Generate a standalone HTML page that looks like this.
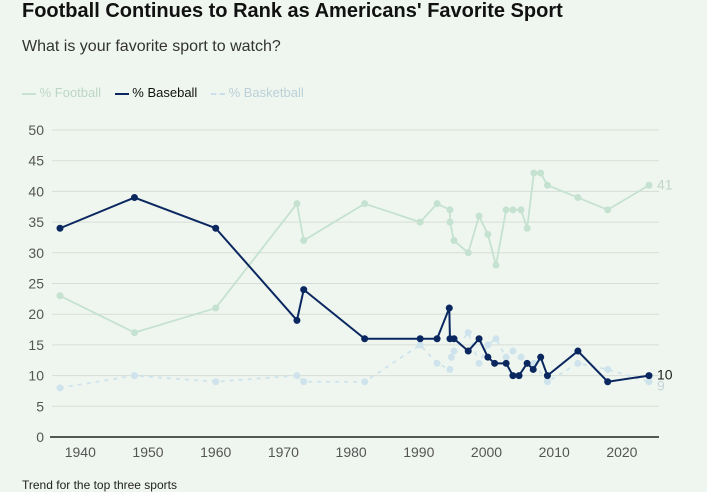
<!DOCTYPE html>
<html><head><meta charset="utf-8">
<style>
html,body{margin:0;padding:0;background:#eff6ef;}
body{width:707px;height:491px;overflow:hidden;font-family:"Liberation Sans",sans-serif;position:relative;}
.t{position:absolute;white-space:nowrap;}
</style></head>
<body>
<div class="t" style="left:22px;top:0px;font-size:20px;font-weight:bold;color:#111;">Football Continues to Rank as Americans' Favorite Sport</div>
<div class="t" style="left:22px;top:38px;font-size:16px;color:#333;">What is your favorite sport to watch?</div>
<div class="t" style="left:22px;top:85px;font-size:13px;">
 <span style="color:#bcd6c6;"><span style="display:inline-block;width:14px;border-top:2px solid #c7e2d2;vertical-align:middle;"></span> % Football</span>
 <span style="color:#111;margin-left:10px;"><span style="display:inline-block;width:14px;border-top:2px solid #0b2760;vertical-align:middle;"></span> % Baseball</span>
 <span style="color:#bcd0d8;margin-left:10px;"><span style="display:inline-block;width:14px;border-top:2px dashed #c9e0ea;vertical-align:middle;"></span> % Basketball</span>
</div>
<svg id="chart" width="707" height="491" style="position:absolute;left:0;top:0;"></svg>
<div class="t" style="left:22px;top:478px;font-size:12px;color:#222;">Trend for the top three sports</div>
<script>
const footYears=[1937,1948,1960,1972,1973,1982,1990.2,1992.7,1994.6,1994.6,1995.2,1997.3,1998.9,2000.2,2001.4,2002.9,2003.9,2005.1,2006,2007,2008,2009,2013.5,2017.9,2024];
const footVals=[23,17,21,38,32,38,35,38,37,35,32,30,36,33,28,37,37,37,34,43,43,41,39,37,41];
const baseYears=[1937,1948,1960,1972,1973,1982,1990.2,1992.7,1994.5,1994.6,1995.2,1997.3,1998.9,2000.2,2001.2,2002.9,2003.9,2004.8,2006,2006.9,2008,2009,2013.5,2017.9,2024];
const baseVals=[34,39,34,19,24,16,16,16,21,16,16,14,16,13,12,12,10,10,12,11,13,10,14,9,10];
const baskYears=[1937,1948,1960,1972,1973,1982,1990.2,1992.7,1994.6,1994.8,1995.2,1997.3,1998.9,2000.2,2001.4,2002.9,2003.9,2005.1,2006,2007,2009,2013.5,2017.9,2024];
const baskVals=[8,10,9,10,9,9,15,12,11,13,14,17,12,15,16,13,14,13,12,12,9,12,11,9];
const yTicks=[0,5,10,15,20,25,30,35,40,45,50];
const xTicks=[1940,1950,1960,1970,1980,1990,2000,2010,2020];
const NS="http://www.w3.org/2000/svg";
const svg=document.getElementById('chart');
const xs=y=>60+(y-1937)*6.77;
const ys=v=>437-v*6.14;
function el(t,a,p){const e=document.createElementNS(NS,t);for(const k in a)e.setAttribute(k,a[k]);(p||svg).appendChild(e);return e;}
yTicks.forEach(v=>{
 if(v>0){const g=el('line',{x1:52,x2:659,y1:ys(v),y2:ys(v),stroke:'#d6ddd6','stroke-width':1});
 
 }
 const t=el('text',{x:44,y:ys(v)+5,'text-anchor':'end','font-size':14,fill:'#555','font-family':'Liberation Sans, sans-serif'});
 t.textContent=v;
 
 
});
const ax=el('line',{x1:50,x2:659,y1:437,y2:437,stroke:'#222','stroke-width':1.5});


xTicks.forEach(y=>{
 const t=el('text',{x:xs(y),y:457,'text-anchor':'middle','font-size':14,fill:'#555','font-family':'Liberation Sans, sans-serif'});
 t.textContent=y;
 
 
});
function series(years,vals,color,dash,name,w){
 const p=el('polyline',{points:years.map((y,i)=>xs(y)+','+ys(vals[i])).join(' '),fill:'none',stroke:color,'stroke-width':w,'stroke-dasharray':dash,'stroke-linejoin':'round'});
 
 
 years.forEach((y,i)=>{
  const c=el('circle',{cx:xs(y),cy:ys(vals[i]),r:3.5,fill:color});
  
  
 });
}
series(baskYears,baskVals,'#cfe3ec','4,5','basketball',1.8);
series(footYears,footVals,'#c5e2d1','','football',1.8);
series(baseYears,baseVals,'#0b2760','','baseball',2);
[[footVals,'#c0d4c8','football-end-label'],[baseVals,'#222','baseball-end-label'],[baskVals,'#c6d4da','basketball-end-label']].forEach(([v,c,n])=>{
 const last=v[v.length-1];
 const t=el('text',{x:657,y:ys(last)+(n==='basketball-end-label'?9:4),'font-size':14,fill:c,'font-family':'Liberation Sans, sans-serif'});
 t.textContent=last;
 
 
});
</script>
</body></html>
